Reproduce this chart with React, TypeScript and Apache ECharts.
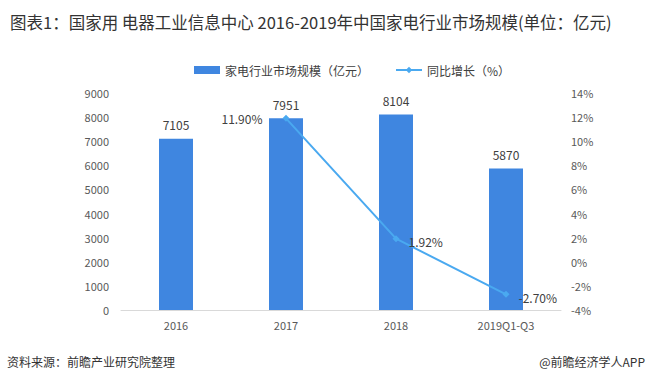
import React, { useEffect, useRef } from "react";
import * as echarts from "echarts";

const categories = ["2016", "2017", "2018", "2019Q1-Q3"];
const marketSize = [7105, 7951, 8104, 5870];
const growth: (number | null)[] = [null, 11.9, 1.92, -2.7];
const growthLabelSide = ["right", "left", "right", "right"];
const titleText = "图表1：国家用 电器工业信息中心 2016-2019年中国家电行业市场规模(单位：亿元)";
const sourceText = "资料来源：前瞻产业研究院整理";
const brandText = "@前瞻经济学人APP";

export default function App() {
  const ref = useRef<HTMLDivElement>(null);
  useEffect(() => {
    const chart = echarts.init(ref.current!, null, { renderer: "svg" });
    const font = "'Microsoft YaHei', 'Noto Sans CJK SC', sans-serif";
    chart.setOption({
      animation: false,
      backgroundColor: "#fff",
      textStyle: { fontFamily: font },
      title: {
        text: titleText,
        left: 5,
        top: 9,
        textStyle: { fontSize: 16.5, fontWeight: "normal", color: "#333", fontFamily: font },
      },
      legend: {
        top: 59,
        left: 189,
        itemGap: 26,
        itemWidth: 26,
        itemHeight: 8,
        textStyle: { fontSize: 12, color: "#404040", fontFamily: font },
        data: [
          { name: "家电行业市场规模（亿元）", icon: "rect" },
          { name: "同比增长（%）" },
        ],
      },
      grid: { left: 121, right: 88, top: 93, bottom: 73 },
      xAxis: {
        type: "category",
        data: categories,
        axisLine: { lineStyle: { color: "#d9d9d9" } },
        axisTick: { show: false },
        axisLabel: { color: "#595959", fontSize: 11, margin: 9 },
      },
      yAxis: [
        {
          type: "value",
          min: 0,
          max: 9000,
          interval: 1000,
          splitLine: { show: false },
          axisLine: { show: false },
          axisTick: { show: false },
          axisLabel: { color: "#595959", fontSize: 11, margin: 12, formatter: (v: number) => String(v) },
        },
        {
          type: "value",
          min: -4,
          max: 14,
          interval: 2,
          splitLine: { show: false },
          axisLine: { show: false },
          axisTick: { show: false },
          axisLabel: { color: "#595959", fontSize: 11, margin: 10, formatter: "{value}%" },
        },
      ],
      series: [
        {
          name: "家电行业市场规模（亿元）",
          type: "bar",
          data: marketSize,
          barWidth: 34,
          itemStyle: { color: "#3f86e0" },
          label: { show: true, position: "top", color: "#404040", fontSize: 12, distance: 8 },
        },
        {
          name: "同比增长（%）",
          type: "line",
          yAxisIndex: 1,
          data: growth.map((v, i) => ({
            value: v,
            label: { position: growthLabelSide[i], distance: i === 1 ? 20 : 9, offset: [0, i === 1 ? 0 : 3] },
          })),
          connectNulls: false,
          symbol: "diamond",
          symbolSize: 7,
          lineStyle: { color: "#4aa9f0", width: 2 },
          itemStyle: { color: "#4aa9f0" },
          label: {
            show: true,
            color: "#404040",
            fontSize: 12,
            formatter: (p: any) => (p.value == null ? "" : Number(p.value).toFixed(2) + "%"),
          },
        },
      ],
      graphic: [
        {
          type: "text",
          left: 7,
          top: 355,
          style: { text: sourceText, fill: "#333", font: `12px ${font}` },
        },
        {
          type: "text",
          right: 4,
          top: 355,
          style: { text: brandText, fill: "#333", font: `12px ${font}` },
        },
      ],
    });
    return () => chart.dispose();
  }, []);
  return <div ref={ref} style={{ width: 649, height: 383, position: "absolute", left: 0, top: 0 }} />;
}
